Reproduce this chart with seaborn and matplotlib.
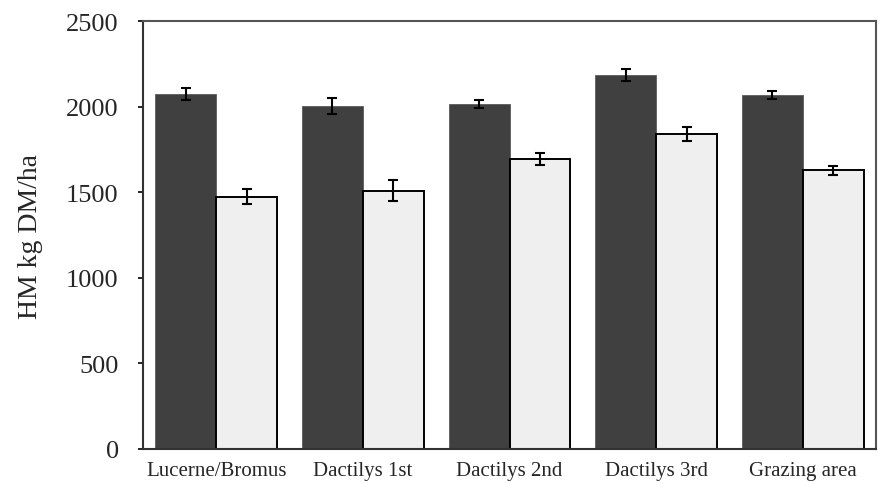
import matplotlib
matplotlib.use("Agg")
import matplotlib.pyplot as plt
import numpy as np
import pandas as pd
import seaborn as sns

# values
sites = ["Lucerne/Bromus", "Dactilys 1st", "Dactilys 2nd", "Dactilys 3rd", "Grazing area"]
series = ["Period 1", "Period 2"]
hm_period1 = [2074, 2005, 2015, 2185, 2070]
hm_period2 = [1474, 1509, 1694, 1840, 1628]
err_period1 = [35, 47, 25, 36, 23]
err_period2 = [45, 60, 36, 43, 26]
y_ticks = [0, 500, 1000, 1500, 2000, 2500]

df = pd.DataFrame(
    {
        "site": sites * 2,
        "series": [series[0]] * len(sites) + [series[1]] * len(sites),
        "hm": hm_period1 + hm_period2,
        "err": err_period1 + err_period2,
    }
)

sns.set_theme(style="white")
plt.rcParams["font.family"] = ["Liberation Serif", "DejaVu Serif"]

fig = plt.figure(figsize=(8.8, 4.85), dpi=100)
ax = fig.add_axes([0.1625, 0.0722, 0.833, 0.8824])

sns.barplot(
    data=df,
    x="site",
    y="hm",
    hue="series",
    order=sites,
    hue_order=series,
    palette=["#404040", "#efefef"],
    width=0.83,
    errorbar=None,
    legend=False,
    ax=ax,
)

# style bars and add the reported error bars at the bar centres
n = len(sites)
for i, bar in enumerate(ax.patches[: 2 * n]):
    if i < n:
        bar.set_edgecolor("#5a5a5a")
        bar.set_linewidth(0.6)
    else:
        bar.set_edgecolor("black")
        bar.set_linewidth(1.4)
    cx = bar.get_x() + bar.get_width() / 2
    ax.errorbar(
        cx,
        bar.get_height(),
        yerr=df["err"].iloc[i],
        fmt="none",
        ecolor="black",
        elinewidth=1.5,
        capsize=3.3,
        capthick=1.5,
        zorder=5,
    )

ax.set_xlim(-0.5, n - 0.5)
ax.set_ylim(0, 2500)
ax.set_yticks(y_ticks)
ax.set_xlabel("")
ax.set_ylabel("HM kg DM/ha", fontsize=20)
ax.yaxis.set_label_coords(-0.136, 0.5)

ax.tick_params(axis="y", which="major", direction="out", length=3.5, width=1.2,
               color="black", labelsize=19, pad=14, left=True)
ax.tick_params(axis="x", which="major", length=0, labelsize=15, pad=9)

for side, spine in ax.spines.items():
    spine.set_visible(True)
    spine.set_color("#333333" if side in ("left", "bottom") else "#555555")
    spine.set_linewidth(1.5)

fig.savefig("out.png", dpi=100)
